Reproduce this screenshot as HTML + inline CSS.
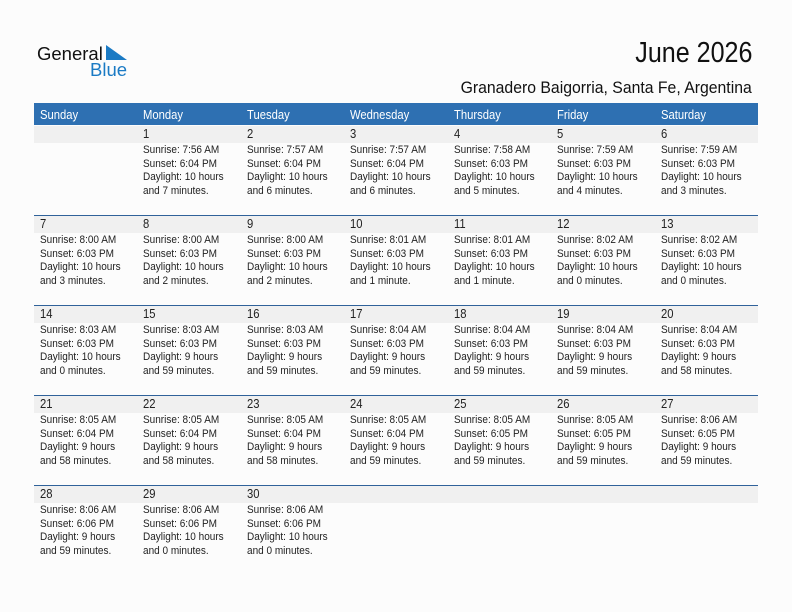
<!DOCTYPE html>
<html><head><meta charset="utf-8"><style>
html,body{margin:0;padding:0;}
body{width:792px;height:612px;background:#fcfcfc;position:relative;overflow:hidden;font-family:"Liberation Sans",Arial,sans-serif;color:#222;}
.abs{position:absolute;}
.hdr{position:absolute;left:34px;top:103px;width:724px;height:22px;background:#2e70b2;}
.hn{position:absolute;top:104px;height:22px;line-height:23px;font-size:12.5px;color:#fff;transform:scaleX(.9);transform-origin:left;white-space:nowrap;}
.band{position:absolute;left:34px;width:724px;height:17px;background:#f0f0f0;}
.line{position:absolute;left:34px;width:724px;height:1px;background:#30629a;}
.c{position:absolute;width:100px;}
.n{font-size:12.5px;line-height:17px;height:17px;transform:scaleX(.9);transform-origin:left;white-space:nowrap;color:#222;}
.d{font-size:11px;line-height:13.4px;margin-top:1.3px;transform:scaleX(.91);transform-origin:left;white-space:nowrap;color:#222;}
</style></head><body>

<div class="abs" style="left:37px;top:43px;font-size:18.5px;color:#111;line-height:22px;">General</div>
<div class="abs" style="left:90px;top:59px;font-size:18.5px;color:#1a7ac4;line-height:22px;">Blue</div>
<svg class="abs" style="left:0;top:0" width="140" height="80"><polygon points="106,45 106,60 127,60" fill="#1a7ac4"/></svg>

<div class="abs" style="right:40px;top:37px;font-size:29px;line-height:32px;color:#111;transform:scaleX(.865);transform-origin:right;white-space:nowrap;">June 2026</div>
<div class="abs" style="right:40px;top:78px;font-size:17px;line-height:19px;color:#111;transform:scaleX(.928);transform-origin:right;white-space:nowrap;">Granadero Baigorria, Santa Fe, Argentina</div>

<div class="hdr"></div>
<div class="hn" style="left:40px">Sunday</div>
<div class="hn" style="left:143.4px">Monday</div>
<div class="hn" style="left:246.9px">Tuesday</div>
<div class="hn" style="left:350.3px">Wednesday</div>
<div class="hn" style="left:453.7px">Thursday</div>
<div class="hn" style="left:557.2px">Friday</div>
<div class="hn" style="left:660.6px">Saturday</div>

<div class="band" style="top:126px"></div>
<div class="line" style="top:215px"></div><div class="band" style="top:216px"></div>
<div class="line" style="top:305px"></div><div class="band" style="top:306px"></div>
<div class="line" style="top:395px"></div><div class="band" style="top:396px"></div>
<div class="line" style="top:485px"></div><div class="band" style="top:486px"></div>

<!-- Row 1 -->
<div class="c" style="left:143.4px;top:126px"><div class="n">1</div><div class="d">Sunrise: 7:56 AM<br>Sunset: 6:04 PM<br>Daylight: 10 hours<br>and 7 minutes.</div></div>
<div class="c" style="left:246.9px;top:126px"><div class="n">2</div><div class="d">Sunrise: 7:57 AM<br>Sunset: 6:04 PM<br>Daylight: 10 hours<br>and 6 minutes.</div></div>
<div class="c" style="left:350.3px;top:126px"><div class="n">3</div><div class="d">Sunrise: 7:57 AM<br>Sunset: 6:04 PM<br>Daylight: 10 hours<br>and 6 minutes.</div></div>
<div class="c" style="left:453.7px;top:126px"><div class="n">4</div><div class="d">Sunrise: 7:58 AM<br>Sunset: 6:03 PM<br>Daylight: 10 hours<br>and 5 minutes.</div></div>
<div class="c" style="left:557.2px;top:126px"><div class="n">5</div><div class="d">Sunrise: 7:59 AM<br>Sunset: 6:03 PM<br>Daylight: 10 hours<br>and 4 minutes.</div></div>
<div class="c" style="left:660.6px;top:126px"><div class="n">6</div><div class="d">Sunrise: 7:59 AM<br>Sunset: 6:03 PM<br>Daylight: 10 hours<br>and 3 minutes.</div></div>

<!-- Row 2 -->
<div class="c" style="left:40px;top:216px"><div class="n">7</div><div class="d">Sunrise: 8:00 AM<br>Sunset: 6:03 PM<br>Daylight: 10 hours<br>and 3 minutes.</div></div>
<div class="c" style="left:143.4px;top:216px"><div class="n">8</div><div class="d">Sunrise: 8:00 AM<br>Sunset: 6:03 PM<br>Daylight: 10 hours<br>and 2 minutes.</div></div>
<div class="c" style="left:246.9px;top:216px"><div class="n">9</div><div class="d">Sunrise: 8:00 AM<br>Sunset: 6:03 PM<br>Daylight: 10 hours<br>and 2 minutes.</div></div>
<div class="c" style="left:350.3px;top:216px"><div class="n">10</div><div class="d">Sunrise: 8:01 AM<br>Sunset: 6:03 PM<br>Daylight: 10 hours<br>and 1 minute.</div></div>
<div class="c" style="left:453.7px;top:216px"><div class="n">11</div><div class="d">Sunrise: 8:01 AM<br>Sunset: 6:03 PM<br>Daylight: 10 hours<br>and 1 minute.</div></div>
<div class="c" style="left:557.2px;top:216px"><div class="n">12</div><div class="d">Sunrise: 8:02 AM<br>Sunset: 6:03 PM<br>Daylight: 10 hours<br>and 0 minutes.</div></div>
<div class="c" style="left:660.6px;top:216px"><div class="n">13</div><div class="d">Sunrise: 8:02 AM<br>Sunset: 6:03 PM<br>Daylight: 10 hours<br>and 0 minutes.</div></div>

<!-- Row 3 -->
<div class="c" style="left:40px;top:306px"><div class="n">14</div><div class="d">Sunrise: 8:03 AM<br>Sunset: 6:03 PM<br>Daylight: 10 hours<br>and 0 minutes.</div></div>
<div class="c" style="left:143.4px;top:306px"><div class="n">15</div><div class="d">Sunrise: 8:03 AM<br>Sunset: 6:03 PM<br>Daylight: 9 hours<br>and 59 minutes.</div></div>
<div class="c" style="left:246.9px;top:306px"><div class="n">16</div><div class="d">Sunrise: 8:03 AM<br>Sunset: 6:03 PM<br>Daylight: 9 hours<br>and 59 minutes.</div></div>
<div class="c" style="left:350.3px;top:306px"><div class="n">17</div><div class="d">Sunrise: 8:04 AM<br>Sunset: 6:03 PM<br>Daylight: 9 hours<br>and 59 minutes.</div></div>
<div class="c" style="left:453.7px;top:306px"><div class="n">18</div><div class="d">Sunrise: 8:04 AM<br>Sunset: 6:03 PM<br>Daylight: 9 hours<br>and 59 minutes.</div></div>
<div class="c" style="left:557.2px;top:306px"><div class="n">19</div><div class="d">Sunrise: 8:04 AM<br>Sunset: 6:03 PM<br>Daylight: 9 hours<br>and 59 minutes.</div></div>
<div class="c" style="left:660.6px;top:306px"><div class="n">20</div><div class="d">Sunrise: 8:04 AM<br>Sunset: 6:03 PM<br>Daylight: 9 hours<br>and 58 minutes.</div></div>

<!-- Row 4 -->
<div class="c" style="left:40px;top:396px"><div class="n">21</div><div class="d">Sunrise: 8:05 AM<br>Sunset: 6:04 PM<br>Daylight: 9 hours<br>and 58 minutes.</div></div>
<div class="c" style="left:143.4px;top:396px"><div class="n">22</div><div class="d">Sunrise: 8:05 AM<br>Sunset: 6:04 PM<br>Daylight: 9 hours<br>and 58 minutes.</div></div>
<div class="c" style="left:246.9px;top:396px"><div class="n">23</div><div class="d">Sunrise: 8:05 AM<br>Sunset: 6:04 PM<br>Daylight: 9 hours<br>and 58 minutes.</div></div>
<div class="c" style="left:350.3px;top:396px"><div class="n">24</div><div class="d">Sunrise: 8:05 AM<br>Sunset: 6:04 PM<br>Daylight: 9 hours<br>and 59 minutes.</div></div>
<div class="c" style="left:453.7px;top:396px"><div class="n">25</div><div class="d">Sunrise: 8:05 AM<br>Sunset: 6:05 PM<br>Daylight: 9 hours<br>and 59 minutes.</div></div>
<div class="c" style="left:557.2px;top:396px"><div class="n">26</div><div class="d">Sunrise: 8:05 AM<br>Sunset: 6:05 PM<br>Daylight: 9 hours<br>and 59 minutes.</div></div>
<div class="c" style="left:660.6px;top:396px"><div class="n">27</div><div class="d">Sunrise: 8:06 AM<br>Sunset: 6:05 PM<br>Daylight: 9 hours<br>and 59 minutes.</div></div>

<!-- Row 5 -->
<div class="c" style="left:40px;top:486px"><div class="n">28</div><div class="d">Sunrise: 8:06 AM<br>Sunset: 6:06 PM<br>Daylight: 9 hours<br>and 59 minutes.</div></div>
<div class="c" style="left:143.4px;top:486px"><div class="n">29</div><div class="d">Sunrise: 8:06 AM<br>Sunset: 6:06 PM<br>Daylight: 10 hours<br>and 0 minutes.</div></div>
<div class="c" style="left:246.9px;top:486px"><div class="n">30</div><div class="d">Sunrise: 8:06 AM<br>Sunset: 6:06 PM<br>Daylight: 10 hours<br>and 0 minutes.</div></div>

</body></html>
